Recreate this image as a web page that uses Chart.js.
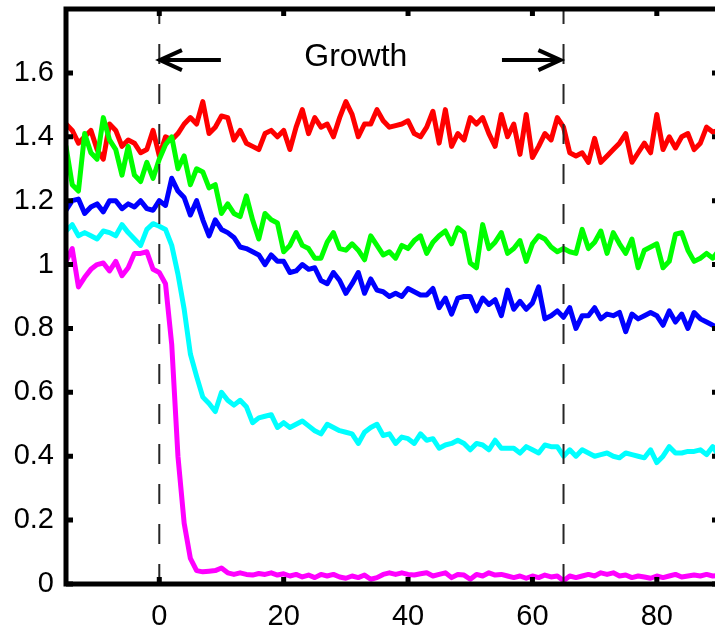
<!DOCTYPE html>
<html>
<head>
<meta charset="utf-8">
<script src="https://cdn.jsdelivr.net/npm/chart.js@4.4.0/dist/chart.umd.min.js"></script>
<style>
  html, body { margin: 0; padding: 0; background: #fff; overflow: hidden; }
  #wrap { width: 725px; height: 627px; }
</style>
</head>
<body>
<div id="wrap"><canvas id="chart" width="725" height="627"></canvas></div>
<script>
// time axis
const time = [-15,-14,-13,-12,-11,-10,-9,-8,-7,-6,-5,-4,-3,-2,-1,0,1,2,3,4,5,6,7,8,9,10,11,12,13,14,15,16,17,18,19,20,
  21,22,23,24,25,26,27,28,29,30,31,32,33,34,35,36,37,38,39,40,41,42,43,44,45,46,47,48,49,50,51,52,53,54,55,56,57,58,59,60,
  61,62,63,64,65,66,67,68,69,70,71,72,73,74,75,76,77,78,79,80,81,82,83,84,85,86,87,88,89,90];

const red = [1.44,1.42,1.38,1.40,1.42,1.36,1.33,1.44,1.42,1.37,
  1.39,1.38,1.35,1.36,1.42,1.34,1.40,1.39,1.41,1.44,
  1.46,1.44,1.51,1.41,1.43,1.465,1.46,1.39,1.42,1.38,
  1.37,1.36,1.41,1.42,1.40,1.42,1.36,1.43,1.485,1.41,
  1.46,1.43,1.44,1.40,1.46,1.51,1.47,1.40,1.44,1.44,
  1.485,1.45,1.43,1.435,1.44,1.45,1.41,1.40,1.43,1.48,
  1.38,1.485,1.37,1.41,1.39,1.46,1.44,1.46,1.41,1.37,
  1.47,1.40,1.44,1.345,1.47,1.335,1.37,1.41,1.39,1.46,
  1.43,1.35,1.34,1.35,1.32,1.395,1.32,1.34,1.36,1.38,
  1.41,1.32,1.35,1.38,1.35,1.47,1.36,1.40,1.365,1.40,
  1.41,1.36,1.38,1.43,1.415,1.42];

const green = [1.37,1.25,1.23,1.41,1.35,1.33,1.46,1.39,1.36,1.28,
  1.37,1.28,1.26,1.32,1.27,1.33,1.375,1.40,1.30,1.34,
  1.25,1.30,1.29,1.24,1.25,1.16,1.19,1.16,1.15,1.215,
  1.14,1.08,1.16,1.14,1.13,1.04,1.06,1.10,1.06,1.05,
  1.02,1.02,1.07,1.10,1.05,1.045,1.065,1.045,1.015,1.09,
  1.06,1.03,1.04,1.02,1.06,1.05,1.075,1.09,1.035,1.07,
  1.09,1.105,1.065,1.115,1.10,1.005,0.99,1.125,1.05,1.07,
  1.10,1.035,1.05,1.075,1.01,1.065,1.09,1.08,1.055,1.04,
  1.05,1.04,1.035,1.11,1.05,1.07,1.105,1.035,1.10,1.065,
  1.035,1.08,0.99,1.045,1.055,1.065,0.99,1.01,1.095,1.10,
  1.045,1.01,1.02,1.035,1.02,1.045];

const blue = [1.17,1.20,1.205,1.16,1.18,1.19,1.165,1.20,1.20,1.175,
  1.19,1.18,1.20,1.175,1.17,1.20,1.185,1.27,1.23,1.21,
  1.155,1.20,1.14,1.09,1.14,1.11,1.10,1.085,1.055,1.05,
  1.04,1.03,1.00,1.03,1.01,1.01,0.975,0.98,1.00,0.985,
  0.99,0.95,0.94,0.975,0.95,0.91,0.94,0.975,0.91,0.955,
  0.92,0.915,0.90,0.91,0.90,0.925,0.915,0.905,0.905,0.925,
  0.865,0.895,0.845,0.895,0.90,0.90,0.855,0.895,0.875,0.89,
  0.84,0.92,0.86,0.885,0.86,0.88,0.93,0.83,0.84,0.855,
  0.835,0.865,0.80,0.84,0.84,0.865,0.83,0.845,0.84,0.85,
  0.79,0.845,0.83,0.84,0.85,0.84,0.81,0.855,0.82,0.845,
  0.80,0.85,0.83,0.82,0.81,0.80];

const cyan = [1.105,1.125,1.09,1.10,1.09,1.08,1.105,1.10,1.09,1.125,
  1.10,1.08,1.06,1.11,1.128,1.12,1.11,1.06,0.97,0.86,
  0.72,0.65,0.585,0.565,0.54,0.60,0.575,0.56,0.575,0.555,
  0.505,0.52,0.525,0.53,0.49,0.505,0.49,0.50,0.51,0.495,
  0.48,0.47,0.50,0.49,0.48,0.475,0.47,0.44,0.475,0.49,
  0.50,0.465,0.47,0.44,0.46,0.455,0.44,0.47,0.45,0.455,
  0.425,0.435,0.44,0.45,0.44,0.42,0.44,0.435,0.42,0.45,
  0.425,0.425,0.425,0.41,0.43,0.42,0.41,0.435,0.43,0.43,
  0.40,0.42,0.40,0.42,0.41,0.40,0.405,0.41,0.40,0.395,
  0.41,0.405,0.40,0.395,0.42,0.38,0.40,0.43,0.41,0.41,
  0.415,0.415,0.42,0.405,0.43,0.40];

const magenta = [1.01,1.05,0.93,0.96,0.985,1.0,1.005,0.98,1.01,0.965,
  0.99,1.035,1.035,1.04,0.985,0.975,0.94,0.75,0.40,0.19,
  0.08,0.042,0.038,0.04,0.042,0.05,0.035,0.03,0.035,0.03,
  0.028,0.033,0.03,0.035,0.028,0.032,0.025,0.03,0.022,0.028,
  0.02,0.03,0.025,0.03,0.022,0.018,0.025,0.02,0.028,0.015,
  0.02,0.03,0.035,0.03,0.035,0.03,0.028,0.032,0.035,0.025,
  0.03,0.035,0.02,0.03,0.028,0.015,0.03,0.025,0.035,0.028,
  0.03,0.025,0.02,0.025,0.018,0.025,0.02,0.028,0.022,0.025,
  0.01,0.025,0.02,0.025,0.03,0.025,0.035,0.03,0.035,0.025,
  0.028,0.02,0.025,0.022,0.018,0.025,0.02,0.025,0.03,0.022,
  0.025,0.028,0.025,0.03,0.025,0.027];

const xTicks = [0, 20, 40, 60, 80];
const yTicks = [0, 0.2, 0.4, 0.6, 0.8, 1, 1.2, 1.4, 1.6];
const yTickLabels = ['0', '0.2', '0.4', '0.6', '0.8', '1', '1.2', '1.4', '1.6'];

// growth window markers and label
const markers = [0, 65];
const arrowY = 1.64;
const arrows = [[9.9, 0.1], [55.1, 64.5]];
const growthLabel = 'Growth';
const growthX = 31.6;
const growthY = 1.65;

const series = [
  { data: magenta, color: '#ff00ff' },
  { data: cyan, color: '#00ffff' },
  { data: blue, color: '#0000ff' },
  { data: green, color: '#00ff00' },
  { data: red, color: '#ff0000' }
];

const frame = {
  id: 'frame',
  afterDatasetsDraw(chart) {
    const { ctx, chartArea: a, scales: { x, y } } = chart;
    ctx.save();

    ctx.strokeStyle = '#262626';
    ctx.lineWidth = 2;
    ctx.setLineDash([20, 20]);
    markers.forEach(m => {
      const px = x.getPixelForValue(m);
      ctx.beginPath();
      ctx.moveTo(px, a.bottom);
      ctx.lineTo(px, a.top);
      ctx.stroke();
    });
    ctx.setLineDash([]);

    ctx.strokeStyle = '#000';
    ctx.lineWidth = 4;
    const ay = y.getPixelForValue(arrowY);
    arrows.forEach(([from, to]) => {
      const x0 = x.getPixelForValue(from), x1 = x.getPixelForValue(to);
      const dir = Math.sign(x1 - x0);
      ctx.beginPath();
      ctx.moveTo(x0, ay);
      ctx.lineTo(x1, ay);
      ctx.moveTo(x1 - dir * 22, ay - 10);
      ctx.lineTo(x1, ay);
      ctx.lineTo(x1 - dir * 22, ay + 10);
      ctx.stroke();
    });

    ctx.fillStyle = '#000';
    ctx.font = '32px "Liberation Sans", Arial, sans-serif';
    ctx.textAlign = 'center';
    ctx.textBaseline = 'middle';
    ctx.fillText(growthLabel, x.getPixelForValue(growthX), y.getPixelForValue(growthY));

    ctx.lineWidth = 5;
    ctx.strokeRect(a.left, a.top, a.right - a.left, a.bottom - a.top);
    ctx.beginPath();
    xTicks.forEach(v => {
      const px = x.getPixelForValue(v);
      ctx.moveTo(px, a.bottom); ctx.lineTo(px, a.bottom - 7);
      ctx.moveTo(px, a.top); ctx.lineTo(px, a.top + 7);
    });
    yTicks.forEach(v => {
      const py = y.getPixelForValue(v);
      ctx.moveTo(a.left, py); ctx.lineTo(a.left + 7, py);
      ctx.moveTo(a.right, py); ctx.lineTo(a.right - 7, py);
    });
    ctx.stroke();
    ctx.restore();
  }
};

const tickFont = { family: '"Liberation Sans", Arial, sans-serif', size: 29 };

new Chart(document.getElementById('chart'), {
  type: 'line',
  data: {
    datasets: series.map(s => ({
      data: time.map((t, i) => ({ x: t, y: s.data[i] })),
      borderColor: s.color,
      borderWidth: 5,
      pointRadius: 0,
      tension: 0,
      borderJoinStyle: 'round',
      borderCapStyle: 'round',
      fill: false
    }))
  },
  options: {
    responsive: false,
    devicePixelRatio: 1,
    animation: false,
    layout: { padding: { left: 0, top: 9, right: 6, bottom: 0 } },
    plugins: { legend: { display: false }, tooltip: { enabled: false } },
    scales: {
      x: {
        type: 'linear',
        min: -15,
        max: 90,
        grid: { display: false, drawTicks: false },
        border: { display: false },
        ticks: { font: tickFont, color: '#000', padding: 16, maxRotation: 0, autoSkip: false },
        afterBuildTicks: s => { s.ticks = xTicks.map(v => ({ value: v })); },
        afterFit: s => { s.height = 43; s.paddingLeft = 0; s.paddingRight = 0; }
      },
      y: {
        min: 0,
        max: 1.8,
        grid: { display: false, drawTicks: false },
        border: { display: false },
        ticks: {
          font: tickFont, color: '#000', padding: 12, autoSkip: false,
          callback: (v, i) => yTickLabels[i]
        },
        afterBuildTicks: s => { s.ticks = yTicks.map(v => ({ value: v })); },
        afterFit: s => { s.width = 66; s.paddingTop = 0; s.paddingBottom = 0; }
      }
    }
  },
  plugins: [frame]
});
</script>
</body>
</html>
